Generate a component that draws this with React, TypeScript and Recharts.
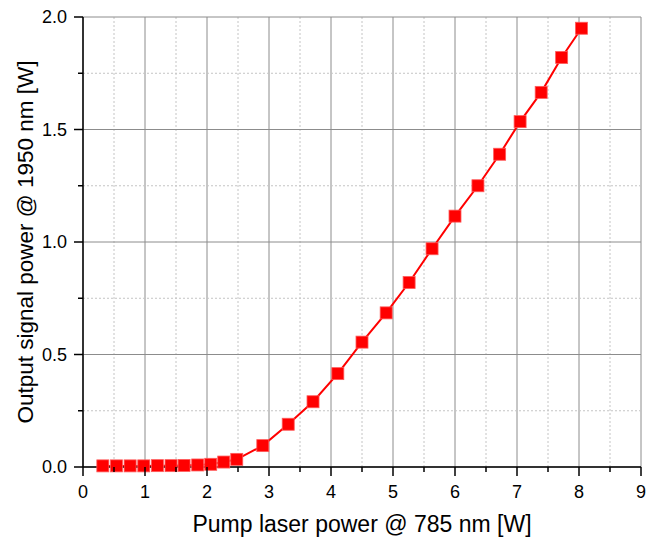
import { LineChart, Line, XAxis, YAxis, ReferenceLine } from 'recharts';

const pumpPower = [
  0.32, 0.54, 0.76, 0.98, 1.2, 1.42, 1.63, 1.85, 2.06, 2.27, 2.48, 2.9, 3.31,
  3.71, 4.11, 4.5, 4.89, 5.26, 5.63, 6.0, 6.37, 6.72, 7.05, 7.39, 7.72, 8.04,
];
const signalPower = [
  0.005, 0.005, 0.005, 0.005, 0.006, 0.006, 0.007, 0.009, 0.012, 0.022, 0.034,
  0.095, 0.19, 0.29, 0.415, 0.555, 0.685, 0.82, 0.97, 1.115, 1.25, 1.39, 1.535,
  1.665, 1.82, 1.95,
];
const xTicks = [0, 0.5, 1, 1.5, 2, 2.5, 3, 3.5, 4, 4.5, 5, 5.5, 6, 6.5, 7, 7.5, 8, 8.5, 9];
const yTicks = [0, 0.25, 0.5, 0.75, 1, 1.25, 1.5, 1.75, 2];

const data = pumpPower.map((x, i) => ({ x, y: signalPower[i] }));

const FONT = '"Liberation Sans", Arial, sans-serif';
const isMajorX = (v: number) => Number.isInteger(v);
const isMajorY = (v: number) => Math.abs(v * 2 - Math.round(v * 2)) < 1e-9;

function BottomTick({ x, y, payload }: any) {
  const major = isMajorX(payload.value);
  return (
    <g>
      <line x1={x} x2={x} y1={y} y2={y + (major ? 9 : 5)} stroke="#000" strokeWidth={1.5} />
      {major && (
        <text x={x} y={y + 31} textAnchor="middle" fontSize={18} fontFamily={FONT} fill="#000">
          {payload.value}
        </text>
      )}
    </g>
  );
}

function TopTick({ x, y, payload }: any) {
  const major = isMajorX(payload.value);
  return <line x1={x} x2={x} y1={y} y2={y - (major ? 9 : 5)} stroke="#000" strokeWidth={1.5} />;
}

function LeftTick({ x, y, payload }: any) {
  const major = isMajorY(payload.value);
  return (
    <g>
      <line x1={x - (major ? 9 : 5)} x2={x} y1={y} y2={y} stroke="#000" strokeWidth={1.5} />
      {major && (
        <text x={x - 16} y={y + 6} textAnchor="end" fontSize={18} fontFamily={FONT} fill="#000">
          {payload.value.toFixed(1)}
        </text>
      )}
    </g>
  );
}

function RightTick({ x, y, payload }: any) {
  const major = isMajorY(payload.value);
  return <line x1={x} x2={x + (major ? 9 : 5)} y1={y} y2={y} stroke="#000" strokeWidth={1.5} />;
}

function SquareDot({ cx, cy }: any) {
  if (cx == null || cy == null) return null;
  return <rect x={cx - 6} y={cy - 6} width={12} height={12} fill="#ff0000" stroke="#ff5a5a" strokeWidth={0.8} />;
}

export default function App() {
  return (
    <div style={{ position: 'absolute', left: 0, top: 0, width: 657, height: 540, background: '#fff' }}>
      <LineChart
        width={657}
        height={540}
        data={data}
        margin={{ top: 17, right: 16, left: 23, bottom: 23 }}
      >
        {xTicks.map((t) => (
          <ReferenceLine
            key={'vx' + t}
            x={t}
            stroke={isMajorX(t) ? '#8c8c8c' : '#c4c4c4'}
            strokeWidth={1}
            strokeDasharray={isMajorX(t) ? undefined : '2 2'}
          />
        ))}
        {yTicks.map((t) => (
          <ReferenceLine
            key={'hy' + t}
            y={t}
            stroke={isMajorY(t) ? '#8c8c8c' : '#c4c4c4'}
            strokeWidth={1}
            strokeDasharray={isMajorY(t) ? undefined : '2 2'}
          />
        ))}
        <XAxis
          dataKey="x"
          type="number"
          domain={[0, 9]}
          ticks={xTicks}
          interval={0}
          height={50}
          tickSize={0}
          tickMargin={0}
          tickLine={false}
          axisLine={{ stroke: '#000', strokeWidth: 1.5 }}
          tick={<BottomTick />}
          label={{ value: 'Pump laser power @ 785 nm [W]', position: 'insideBottom', offset: -15, fontSize: 23, fontFamily: FONT, fill: '#000' }}
        />
        <XAxis
          xAxisId="top"
          orientation="top"
          dataKey="x"
          type="number"
          domain={[0, 9]}
          ticks={xTicks}
          interval={0}
          height={0}
          tickSize={0}
          tickMargin={0}
          tickLine={false}
          axisLine={{ stroke: '#000', strokeWidth: 1.5 }}
          tick={<TopTick />}
        />
        <YAxis
          type="number"
          domain={[0, 2]}
          ticks={yTicks}
          interval={0}
          width={60}
          tickSize={0}
          tickMargin={0}
          tickLine={false}
          axisLine={{ stroke: '#000', strokeWidth: 1.5 }}
          tick={<LeftTick />}
          label={{ value: 'Output signal power @ 1950 nm [W]', angle: -90, position: 'center', dx: -28, fontSize: 22.5, fontFamily: FONT, fill: '#000' }}
        />
        <YAxis
          yAxisId="right"
          orientation="right"
          type="number"
          domain={[0, 2]}
          ticks={yTicks}
          interval={0}
          width={0}
          tickSize={0}
          tickMargin={0}
          tickLine={false}
          axisLine={{ stroke: '#000', strokeWidth: 1.5 }}
          tick={<RightTick />}
        />
        <Line
          type="linear"
          dataKey="y"
          stroke="#ff0000"
          strokeWidth={2}
          dot={<SquareDot />}
          activeDot={false}
          isAnimationActive={false}
        />
      </LineChart>
    </div>
  );
}
